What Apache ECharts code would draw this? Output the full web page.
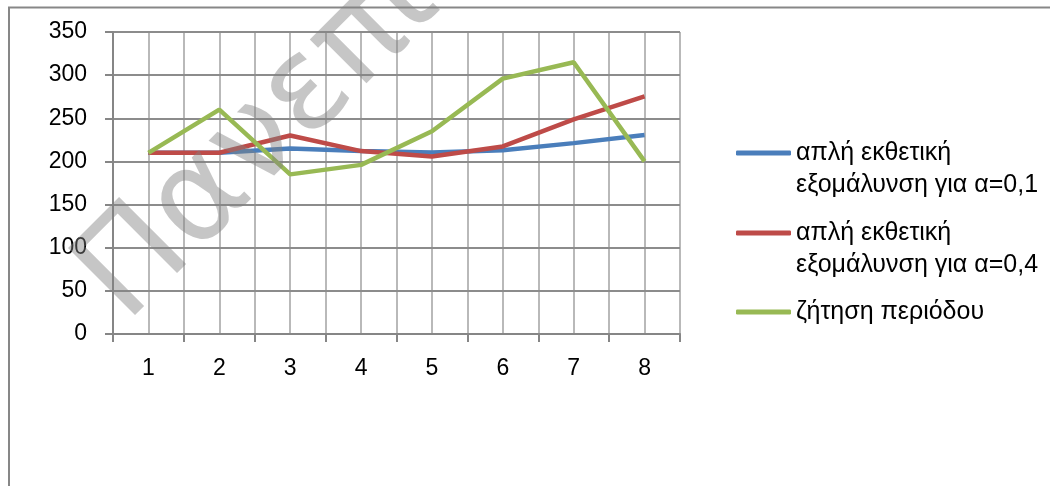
<!DOCTYPE html>
<html>
<head>
<meta charset="utf-8">
<script src="https://cdn.jsdelivr.net/npm/echarts@6/dist/echarts.min.js"></script>
<style>
  html, body { margin: 0; padding: 0; background: #fff; }
  #chart { width: 1050px; height: 486px; }
</style>
</head>
<body>
<div id="chart"></div>
<script>
// Periods on the horizontal axis
const periods = ['1', '2', '3', '4', '5', '6', '7', '8'];

// Demand per period and the two exponential smoothing forecasts
const demand = [210, 260, 185, 196, 235, 296, 315, 200];
const smoothA01 = [210, 210, 215, 212, 210.4, 212.9, 221.2, 230.6];
const smoothA04 = [210, 210, 230, 212, 205.6, 217.4, 248.8, 275.3];

// Series names as shown in the legend
const nameA01 = 'απλή εκθετική\nεξομάλυνση για α=0,1';
const nameA04 = 'απλή εκθετική\nεξομάλυνση για α=0,4';
const nameDemand = 'ζήτηση περιόδου';

const FONT = 'Liberation Sans';
const axisGrey = '#868686';

const chart = echarts.init(document.getElementById('chart'), null, { renderer: 'canvas' });

// One legend block per series; two-line names get a blank first line so the
// key line sits level with the first line of text.
function legendFor(name, iconY, twoLines) {
  const lh = 32;
  const boxH = twoLines ? 3 * lh : lh;
  return {
    show: true,
    orient: 'vertical',
    left: 736,
    top: iconY - boxH / 2,
    padding: 0,
    itemWidth: 55,
    itemHeight: 5,
    itemGap: 0,
    icon: 'roundRect',
    data: [name],
    formatter: n => (twoLines ? '\u00a0\n' + n : n),
    textStyle: {
      fontFamily: FONT,
      fontSize: 25,
      color: '#000',
      lineHeight: lh
    }
  };
}

chart.setOption({
  animation: false,
  backgroundColor: '#fff',
  textStyle: { fontFamily: FONT },
  grid: { left: 113, top: 32, width: 567, height: 302, containLabel: false },
  legend: [
    legendFor(nameA01, 153, true),
    legendFor(nameA04, 233, true),
    legendFor(nameDemand, 312, false)
  ],
  xAxis: [
    {
      type: 'category',
      data: periods,
      boundaryGap: true,
      axisLine: { show: true, lineStyle: { color: axisGrey, width: 2 } },
      axisTick: { show: true, length: 8, lineStyle: { color: axisGrey, width: 2 } },
      axisLabel: { margin: 23, fontSize: 23, color: '#000', fontFamily: FONT },
      splitLine: { show: false },
      z: 3
    },
    {
      // half-period grid lines
      type: 'value',
      position: 'bottom',
      min: 0,
      max: 16,
      interval: 1,
      axisLine: { show: false },
      axisTick: { show: false },
      axisLabel: { show: false },
      splitLine: { show: true, lineStyle: { color: '#b9b9b9', width: 2 } }
    }
  ],
  yAxis: {
    type: 'value',
    min: 0,
    max: 350,
    interval: 50,
    axisLine: { show: true, lineStyle: { color: axisGrey, width: 2 } },
    axisTick: { show: true, length: 8, lineStyle: { color: axisGrey, width: 2 } },
    axisLabel: { margin: 26, fontSize: 23, color: '#000', fontFamily: FONT },
    splitLine: { show: true, lineStyle: { color: '#8c8c8c', width: 2 } },
    z: 3
  },
  series: [
    { name: nameA01, type: 'line', data: smoothA01, symbol: 'none', color: '#4a7ebb',
      lineStyle: { width: 4.5, color: '#4a7ebb' }, z: 4 },
    { name: nameA04, type: 'line', data: smoothA04, symbol: 'none', color: '#be4b48',
      lineStyle: { width: 4.5, color: '#be4b48' }, z: 5 },
    { name: nameDemand, type: 'line', data: demand, symbol: 'none', color: '#98b954',
      lineStyle: { width: 4.5, color: '#98b954' }, z: 6 }
  ],
  graphic: [
    {
      // chart frame
      type: 'rect',
      shape: { x: 9, y: 7.5, width: 1100, height: 600 },
      style: { fill: 'none', stroke: '#878787', lineWidth: 2 },
      z: 1
    },
    {
      // diagonal watermark
      type: 'text',
      x: 102,
      y: 300,
      rotation: Math.PI / 4,
      silent: true,
      z: 100,
      style: {
        text: 'Πανεπιστήμιο',
        font: '130px "DejaVu Sans"',
        fill: 'rgba(128,128,128,0.45)',
        align: 'left',
        verticalAlign: 'middle'
      }
    }
  ]
});
</script>
</body>
</html>
